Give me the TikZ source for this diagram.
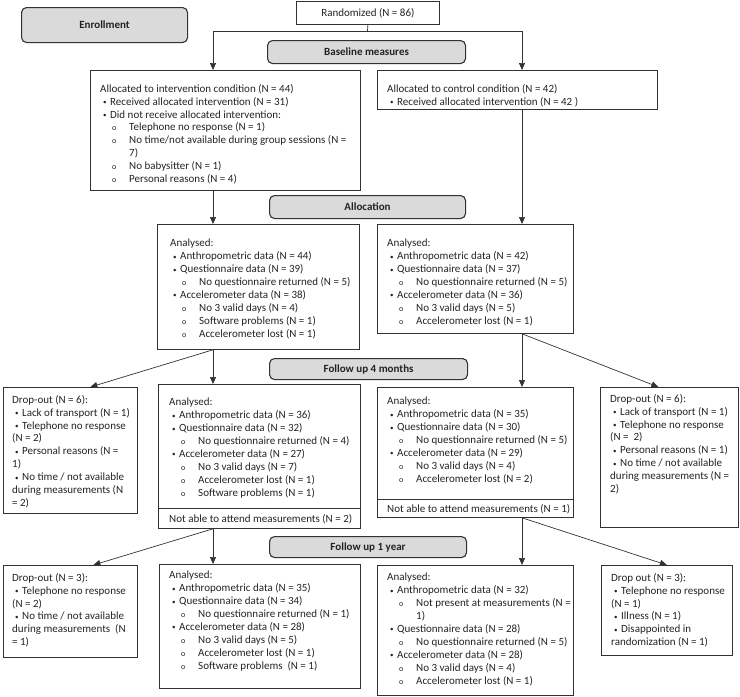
\documentclass[tikz,border=0pt]{standalone}
\usepackage{fontspec}
\setmainfont{Carlito}
\usepackage{tikz}
\usetikzlibrary{arrows.meta, positioning, calc}
\definecolor{myline}{RGB}{50,50,50}
\definecolor{mytext}{RGB}{35,35,35}
\definecolor{hdrgray}{RGB}{218,218,218}
\newcommand{\itm}{\hspace*{3pt}\makebox[7pt][l]{\raisebox{0.6pt}{\scriptsize\textbullet}}}
\newcommand{\sitm}{\hspace*{12pt}\makebox[17pt][l]{\footnotesize o}}
\newcommand{\cnt}{\hspace*{29pt}}
\tikzset{
  phase/.style={rectangle, draw=myline, fill=hdrgray, rounded corners=5pt,
    line width=1.1pt, anchor=north west, inner sep=0pt, text=mytext,
    font=\fontsize{11}{13}\selectfont\bfseries},
  frame/.style={rectangle, draw=myline, line width=0.8pt,
    anchor=north west, inner sep=0pt, text=mytext,
    font=\fontsize{11}{13}\selectfont},
  txt/.style={anchor=north west, align=left, inner sep=0pt, text=mytext,
    font=\fontsize{11}{12.9}\selectfont},
  arrow/.style={-{Triangle[length=7pt,width=6pt]}, line width=0.7pt, color=myline},
  line/.style={line width=0.7pt, color=myline}
}

\begin{document}
\begin{tikzpicture}[x=1pt, y=-1pt]
  \useasboundingbox (0,0) rectangle (740,697);
  % stages
  \node[phase, minimum width=166, minimum height=35] (enrol) at (21,7) {Enrollment};
  \node[phase, minimum width=198, minimum height=23] (base) at (267,40) {Baseline measures};
  \node[phase, minimum width=196, minimum height=23] (alloc) at (269,195) {Allocation};
  \node[phase, minimum width=198, minimum height=21] (fu4) at (269,358) {Follow up 4 months};
  \node[phase, minimum width=197, minimum height=21] (fu1) at (269,536) {Follow up 1 year};

  % boxes
  \node[frame, minimum width=143, minimum height=23] (rand) at (296,1) {Randomized (N = 86)};
  \node[frame, minimum width=270, minimum height=120] (intv) at (90,70) {};
  \node[frame, minimum width=280, minimum height=39] (ctrl) at (377,70) {};
  \node[frame, minimum width=202, minimum height=125] (anI0) at (157,224) {};
  \node[frame, minimum width=196, minimum height=109] (anC0) at (377,224) {};
  \node[frame, minimum width=134, minimum height=126] (doI4) at (3,387) {};
  \node[frame, minimum width=202, minimum height=144] (anI4) at (158,384) {};
  \node[frame, minimum width=196, minimum height=130] (anC4) at (377,387) {};
  \node[frame, minimum width=138, minimum height=140] (doC4) at (600,387) {};
  \node[frame, minimum width=134, minimum height=92] (doI1) at (3,565) {};
  \node[frame, minimum width=201, minimum height=124] (anI1) at (159,564) {};
  \node[frame, minimum width=196, minimum height=130] (anC1) at (377,565) {};
  \node[frame, minimum width=131, minimum height=90] (doC1) at (601,565) {};

  % box texts
  \node[txt] (intvt) at ([shift={(10,14)}]intv.north west) {%
    Allocated to intervention condition (N = 44)\\
    \itm Received allocated intervention (N = 31)\\
    \itm Did not receive allocated intervention:\\
    \sitm Telephone no response (N = 1)\\
    \sitm No time/not available during group sessions (N =\\
    \cnt 7)\\
    \sitm No babysitter (N = 1)\\
    \sitm Personal reasons (N = 4)};
  \node[txt] (ctrlt) at ([shift={(10,14)}]ctrl.north west) {%
    Allocated to control condition (N = 42)\\
    \itm Received allocated intervention (N = 42 )};
  \node[txt] (anI0t) at ([shift={(13,15)}]anI0.north west) {%
    Analysed:\\
    \itm Anthropometric data (N = 44)\\
    \itm Questionnaire data (N = 39)\\
    \sitm No questionnaire returned (N = 5)\\
    \itm Accelerometer data (N = 38)\\
    \sitm No 3 valid days (N = 4)\\
    \sitm Software problems (N = 1)\\
    \sitm Accelerometer lost (N = 1)};
  \node[txt] (anC0t) at ([shift={(10,15)}]anC0.north west) {%
    Analysed:\\
    \itm Anthropometric data (N = 42)\\
    \itm Questionnaire data (N = 37)\\
    \sitm No questionnaire returned (N = 5)\\
    \itm Accelerometer data (N = 36)\\
    \sitm No 3 valid days (N = 5)\\
    \sitm Accelerometer lost (N = 1)};
  \node[txt] (doI4t) at ([shift={(9,8)}]doI4.north west) {%
    Drop-out (N = 6):\\
    \itm Lack of transport (N = 1)\\
    \itm Telephone no response\\
    (N = 2)\\
    \itm Personal reasons (N =\\
    1)\\
    \itm No time / not available\\
    during measurements (N\\
    = 2)};
  \node[txt] (anI4t) at ([shift={(11,14)}]anI4.north west) {%
    Analysed:\\
    \itm Anthropometric data (N = 36)\\
    \itm Questionnaire data (N = 32)\\
    \sitm No questionnaire returned (N = 4)\\
    \itm Accelerometer data (N = 27)\\
    \sitm No 3 valid days (N = 7)\\
    \sitm Accelerometer lost (N = 1)\\
    \sitm Software problems (N = 1)};
  \node[txt] (anC4t) at ([shift={(10,10)}]anC4.north west) {%
    Analysed:\\
    \itm Anthropometric data (N = 35)\\
    \itm Questionnaire data (N = 30)\\
    \sitm No questionnaire returned (N = 5)\\
    \itm Accelerometer data (N = 29)\\
    \sitm No 3 valid days (N = 4)\\
    \sitm Accelerometer lost (N = 2)};
  \node[txt] (doC4t) at ([shift={(10,7)}]doC4.north west) {%
    Drop-out (N = 6):\\
    \itm Lack of transport (N = 1)\\
    \itm Telephone no response\\
    (N =~~2)\\
    \itm Personal reasons (N = 1)\\
    \itm No time / not available\\
    during measurements (N =\\
    2)};
  \node[txt] (doI1t) at ([shift={(9,8)}]doI1.north west) {%
    Drop-out (N = 3):\\
    \itm Telephone no response\\
    (N = 2)\\
    \itm No time / not available\\
    during measurements~~(N\\
    = 1)};
  \node[txt] (anI1t) at ([shift={(10,7)}]anI1.north west) {%
    Analysed:\\
    \itm Anthropometric data (N = 35)\\
    \itm Questionnaire data (N = 34)\\
    \sitm No questionnaire returned (N = 1)\\
    \itm Accelerometer data (N = 28)\\
    \sitm No 3 valid days (N = 5)\\
    \sitm Accelerometer lost (N = 1)\\
    \sitm Software problems~~(N = 1)};
  \node[txt] (anC1t) at ([shift={(10,8)}]anC1.north west) {%
    Analysed:\\
    \itm Anthropometric data (N = 32)\\
    \sitm Not present at measurements (N =\\
    \cnt 1)\\
    \itm Questionnaire data (N = 28)\\
    \sitm No questionnaire returned (N = 5)\\
    \itm Accelerometer data (N = 28)\\
    \sitm No 3 valid days (N = 4)\\
    \sitm Accelerometer lost (N = 1)};
  \node[txt] (doC1t) at ([shift={(10,8)}]doC1.north west) {%
    Drop out (N = 3):\\
    \itm Telephone no response\\
    (N = 1)\\
    \itm Illness (N = 1)\\
    \itm Disappointed in\\
    randomization (N = 1)};

  % not able to attend
  \coordinate (anI4sep) at (158,508);
  \coordinate (anC4sep) at (377,499);
  \draw[line] (anI4sep) -- (anI4sep -| anI4.east);
  \draw[line] (anC4sep) -- (anC4sep -| anC4.east);
  \node[txt, anchor=west] (anI4na) at ([shift={(11,-10)}]anI4.south west) {Not able to attend measurements (N = 2)};
  \node[txt, anchor=west] (anC4na) at ([shift={(10,-9)}]anC4.south west) {Not able to attend measurements (N = 1)};

  % connectors
  \coordinate (laneL) at (213,0);
  \coordinate (laneR) at (522,0);
  \coordinate (split) at (367.5,31);
  \draw[line] (rand.south) -- (split);
  \draw[arrow] (split) -| (intv.north -| laneL);
  \draw[arrow] (split) -| (ctrl.north -| laneR);
  \draw[arrow] (intv.south -| laneL) -- (anI0.north -| laneL);
  \draw[arrow] (ctrl.south -| laneR) -- (anC0.north -| laneR);
  \draw[arrow] (anI0.south -| laneL) -- (anI4.north -| laneL);
  \draw[arrow] (anI0.south -| laneL) -- ([xshift=20pt]doI4.north);
  \draw[arrow] (anC0.south -| laneR) -- (anC4.north -| laneR);
  \draw[arrow] (anC0.south -| laneR) -- ([xshift=-11pt]doC4.north);
  \draw[arrow] (anI4.south -| laneL) -- (anI1.north -| laneL);
  \draw[arrow] (anI4.south -| laneL) -- ([xshift=23pt]doI1.north);
  \draw[arrow] (anC4.south -| laneR) -- (anC1.north -| laneR);
  \draw[arrow] (anC4.south -| laneR) -- (doC1.north);
\end{tikzpicture}
\end{document}
